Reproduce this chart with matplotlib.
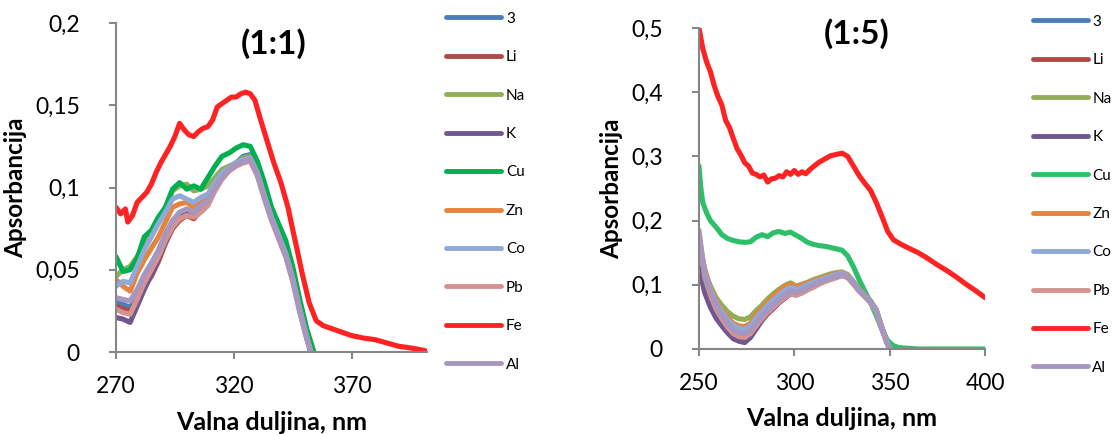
import matplotlib
matplotlib.use("Agg")
import matplotlib.pyplot as plt
from matplotlib.lines import Line2D

plt.rcParams['font.family'] = ['Lato', 'DejaVu Sans']

# imena serija i boje (redoslijed crtanja)
names = ['3', 'Li', 'Na', 'K', 'Cu', 'Zn', 'Co', 'Pb', 'Fe', 'Al']
colors_a = ['#4A7EBB', '#B04A47', '#92AE55', '#70578F', '#00B050', '#E5843F',
            '#8FAAD8', '#D49290', '#FF2222', '#A597BF']
colors_b = ['#4A7EBB', '#B04A47', '#92AE55', '#70578F', '#2EBF6B', '#E5843F',
            '#8FAAD8', '#D49290', '#FF2222', '#A597BF']

# ---------------- (1:1) ----------------
wl_a = [270, 273, 276, 279, 282, 285, 288, 291, 294, 297, 300, 303, 306, 309, 312,
        315, 318, 321, 324, 327, 330, 333, 336, 339, 342, 345, 348, 351, 354]
a_3  = [0.030, 0.029, 0.027, 0.035, 0.045, 0.052, 0.061, 0.071, 0.078, 0.084, 0.085, 0.082, 0.088, 0.092, 0.101,
        0.108, 0.112, 0.115, 0.119, 0.120, 0.110, 0.096, 0.083, 0.072, 0.061, 0.046, 0.027, 0.010, -0.006]
a_li = [0.028, 0.026, 0.025, 0.031, 0.040, 0.046, 0.055, 0.066, 0.075, 0.080, 0.083, 0.081, 0.086, 0.090, 0.099,
        0.106, 0.111, 0.114, 0.117, 0.118, 0.109, 0.095, 0.082, 0.071, 0.060, 0.045, 0.026, 0.009, -0.006]
a_na = [0.046, 0.050, 0.052, 0.058, 0.064, 0.072, 0.079, 0.088, 0.098, 0.101, 0.102, 0.098, 0.099, 0.101, 0.106,
        0.111, 0.113, 0.115, 0.118, 0.119, 0.110, 0.096, 0.083, 0.072, 0.061, 0.046, 0.027, 0.010, -0.006]
a_k  = [0.021, 0.020, 0.018, 0.028, 0.038, 0.047, 0.057, 0.067, 0.076, 0.082, 0.084, 0.083, 0.087, 0.091, 0.099,
        0.106, 0.111, 0.114, 0.117, 0.118, 0.109, 0.095, 0.082, 0.071, 0.060, 0.045, 0.026, 0.009, -0.006]
a_zn = [0.044, 0.040, 0.037, 0.048, 0.056, 0.063, 0.070, 0.079, 0.088, 0.090, 0.091, 0.088, 0.092, 0.095, 0.102,
        0.108, 0.112, 0.114, 0.117, 0.118, 0.109, 0.095, 0.082, 0.071, 0.060, 0.045, 0.026, 0.009, -0.006]
a_co = [0.040, 0.043, 0.042, 0.052, 0.062, 0.070, 0.078, 0.085, 0.093, 0.095, 0.093, 0.091, 0.094, 0.096, 0.103,
        0.109, 0.112, 0.115, 0.117, 0.118, 0.109, 0.095, 0.082, 0.071, 0.060, 0.045, 0.026, 0.009, -0.006]
a_pb = [0.026, 0.024, 0.023, 0.032, 0.042, 0.050, 0.058, 0.068, 0.076, 0.081, 0.083, 0.082, 0.085, 0.089, 0.098,
        0.105, 0.110, 0.113, 0.115, 0.116, 0.107, 0.093, 0.080, 0.069, 0.058, 0.043, 0.024, 0.008, -0.007]
a_al = [0.033, 0.032, 0.031, 0.038, 0.047, 0.054, 0.062, 0.072, 0.080, 0.085, 0.087, 0.085, 0.089, 0.092, 0.100,
        0.106, 0.111, 0.114, 0.116, 0.117, 0.108, 0.094, 0.081, 0.070, 0.059, 0.044, 0.025, 0.008, -0.007]

wl_a_cu = [270, 273, 276, 279, 282, 285, 288, 291, 294, 297, 300, 303, 306, 309, 312,
           315, 318, 321, 324, 327, 330, 333, 336, 339, 342, 345, 348, 351, 354, 357]
a_cu = [0.058, 0.049, 0.050, 0.057, 0.070, 0.074, 0.082, 0.088, 0.099, 0.103, 0.099, 0.101, 0.099, 0.106, 0.113,
        0.119, 0.121, 0.124, 0.126, 0.125, 0.116, 0.103, 0.088, 0.078, 0.068, 0.052, 0.032, 0.014, 0.000, -0.012]

wl_a_fe = [270, 272, 274, 275, 277, 279, 281, 283, 285, 287, 289, 291, 293, 295, 297, 299, 301, 303, 305, 307,
           309, 311, 313, 315, 317, 319, 321, 323, 325, 327, 329, 331, 334, 337, 340, 343, 346, 349, 352, 355,
           358, 362, 366, 370, 375, 380, 385, 390, 395, 400, 402]
a_fe = [0.088, 0.084, 0.087, 0.079, 0.083, 0.091, 0.094, 0.097, 0.102, 0.109, 0.115, 0.120, 0.125, 0.131, 0.139,
        0.135, 0.132, 0.131, 0.134, 0.136, 0.137, 0.141, 0.149, 0.151, 0.153, 0.155, 0.155, 0.157, 0.158, 0.157,
        0.153, 0.143, 0.129, 0.115, 0.103, 0.088, 0.068, 0.048, 0.030, 0.019, 0.016, 0.014, 0.012, 0.010, 0.0085,
        0.0075, 0.0055, 0.0035, 0.0025, 0.0012, 0.0005]

# ---------------- (1:5) ----------------
wl_b = [250, 253, 256, 259, 262, 265, 268, 271, 274, 277, 280, 283, 286, 289, 292, 295, 298, 301,
        304, 307, 310, 313, 316, 319, 322, 325, 328, 331, 334, 337, 340, 343, 346, 349, 352]
b_3  = [0.160, 0.115, 0.088, 0.068, 0.054, 0.041, 0.031, 0.026, 0.026, 0.030, 0.043, 0.052, 0.062, 0.070, 0.078, 0.085, 0.091, 0.089,
        0.092, 0.097, 0.101, 0.105, 0.108, 0.111, 0.114, 0.118, 0.114, 0.104, 0.092, 0.083, 0.074, 0.060, 0.032, 0.008, -0.010]
b_li = [0.140, 0.100, 0.078, 0.058, 0.044, 0.032, 0.022, 0.017, 0.015, 0.022, 0.034, 0.046, 0.055, 0.063, 0.072, 0.079, 0.086, 0.084,
        0.088, 0.093, 0.097, 0.102, 0.106, 0.109, 0.112, 0.115, 0.112, 0.102, 0.091, 0.082, 0.073, 0.059, 0.031, 0.007, -0.010]
b_na = [0.155, 0.120, 0.098, 0.080, 0.068, 0.058, 0.051, 0.047, 0.046, 0.050, 0.060, 0.068, 0.078, 0.086, 0.093, 0.099, 0.103, 0.098,
        0.101, 0.104, 0.108, 0.111, 0.114, 0.117, 0.119, 0.120, 0.116, 0.105, 0.094, 0.084, 0.075, 0.061, 0.033, 0.009, -0.010]
b_k  = [0.125, 0.088, 0.065, 0.048, 0.036, 0.025, 0.016, 0.012, 0.010, 0.018, 0.031, 0.044, 0.055, 0.064, 0.073, 0.080, 0.087, 0.085,
        0.089, 0.094, 0.098, 0.103, 0.106, 0.110, 0.113, 0.116, 0.112, 0.102, 0.091, 0.082, 0.073, 0.059, 0.031, 0.007, -0.010]
b_zn = [0.170, 0.125, 0.095, 0.075, 0.061, 0.049, 0.040, 0.036, 0.035, 0.040, 0.053, 0.063, 0.073, 0.082, 0.090, 0.097, 0.101, 0.097,
        0.100, 0.102, 0.106, 0.109, 0.112, 0.115, 0.117, 0.119, 0.115, 0.104, 0.093, 0.084, 0.074, 0.060, 0.032, 0.008, -0.010]
b_co = [0.165, 0.120, 0.092, 0.072, 0.058, 0.045, 0.037, 0.032, 0.031, 0.036, 0.048, 0.058, 0.068, 0.076, 0.084, 0.091, 0.096, 0.093,
        0.096, 0.100, 0.104, 0.107, 0.110, 0.113, 0.116, 0.118, 0.114, 0.104, 0.092, 0.083, 0.074, 0.060, 0.032, 0.008, -0.010]
b_pb = [0.185, 0.112, 0.084, 0.062, 0.047, 0.034, 0.024, 0.019, 0.018, 0.024, 0.036, 0.047, 0.057, 0.065, 0.073, 0.080, 0.086, 0.084,
        0.087, 0.092, 0.096, 0.101, 0.105, 0.108, 0.111, 0.114, 0.111, 0.101, 0.090, 0.081, 0.072, 0.058, 0.030, 0.006, -0.010]
b_al = [0.180, 0.118, 0.090, 0.068, 0.053, 0.040, 0.030, 0.025, 0.024, 0.029, 0.041, 0.051, 0.061, 0.069, 0.077, 0.084, 0.090, 0.088,
        0.091, 0.096, 0.100, 0.104, 0.107, 0.110, 0.113, 0.116, 0.113, 0.103, 0.091, 0.082, 0.073, 0.059, 0.031, 0.007, -0.010]

wl_b_cu = [250, 251, 252, 254, 256, 258, 260, 262, 265, 268, 271, 274, 277, 280, 283, 286, 289, 292, 295, 298,
           301, 304, 307, 310, 313, 316, 319, 322, 325, 328, 331, 334, 337, 340, 343, 346, 349, 352, 355, 360,
           365, 370, 380, 390, 400]
b_cu = [0.285, 0.250, 0.228, 0.212, 0.200, 0.193, 0.186, 0.178, 0.172, 0.169, 0.167, 0.166, 0.167, 0.174, 0.178,
        0.175, 0.181, 0.183, 0.180, 0.182, 0.177, 0.172, 0.166, 0.163, 0.161, 0.160, 0.158, 0.156, 0.154, 0.145,
        0.128, 0.108, 0.090, 0.072, 0.052, 0.030, 0.013, 0.005, 0.002, 0.001, 0.0, 0.0, 0.0, 0.0, 0.0]

wl_b_fe = [250, 252, 254, 256, 258, 260, 262, 264, 266, 268, 270, 272, 274, 276, 278, 280, 282, 284, 286, 288,
           290, 292, 294, 296, 298, 300, 302, 304, 306, 308, 310, 313, 316, 319, 322, 325, 328, 331, 334, 337,
           340, 343, 346, 349, 352, 356, 360, 365, 370, 375, 380, 385, 390, 395, 400]
b_fe = [0.500, 0.468, 0.447, 0.432, 0.410, 0.393, 0.380, 0.356, 0.345, 0.328, 0.312, 0.302, 0.290, 0.285, 0.274,
        0.272, 0.268, 0.271, 0.260, 0.265, 0.266, 0.270, 0.268, 0.276, 0.272, 0.278, 0.272, 0.276, 0.273, 0.279,
        0.284, 0.291, 0.296, 0.301, 0.303, 0.305, 0.300, 0.285, 0.270, 0.258, 0.247, 0.228, 0.206, 0.183, 0.170,
        0.163, 0.157, 0.150, 0.141, 0.131, 0.122, 0.112, 0.101, 0.091, 0.080]

ticks_a_y = [0, 0.05, 0.1, 0.15, 0.2]
labels_a_y = ['0', '0,05', '0,1', '0,15', '0,2']
ticks_a_x = [270, 320, 370]
ticks_b_y = [0, 0.1, 0.2, 0.3, 0.4, 0.5]
labels_b_y = ['0', '0,1', '0,2', '0,3', '0,4', '0,5']
ticks_b_x = [250, 300, 350, 400]

series_a = [(wl_a, a_3), (wl_a, a_li), (wl_a, a_na), (wl_a, a_k), (wl_a_cu, a_cu), (wl_a, a_zn),
            (wl_a, a_co), (wl_a, a_pb), (wl_a_fe, a_fe), (wl_a, a_al)]
series_b = [(wl_b, b_3), (wl_b, b_li), (wl_b, b_na), (wl_b, b_k), (wl_b_cu, b_cu), (wl_b, b_zn),
            (wl_b, b_co), (wl_b, b_pb), (wl_b_fe, b_fe), (wl_b, b_al)]

fig = plt.figure(figsize=(11.13, 4.34), dpi=100)
ax1 = fig.add_axes([0.1042, 0.1889, 0.2794, 0.758])
ax2 = fig.add_axes([0.628, 0.1959, 0.257, 0.7396])

grey = '#868686'


def uredi(ax, series, colors, xlim, ylim, xt, yt, ylab, title, tx, ty, leg_x, leg_y):
    for (x, y), c, n in zip(series, colors, names):
        ax.plot(x, y, color=c, lw=3.7, label=n, solid_capstyle='round', solid_joinstyle='round')
    ax.set_xlim(*xlim)
    ax.set_ylim(*ylim)
    ax.set_xticks(xt)
    ax.set_yticks(yt)
    ax.set_yticklabels(ylab)
    for s in ['top', 'right']:
        ax.spines[s].set_visible(False)
    for s in ['left', 'bottom']:
        ax.spines[s].set_color(grey)
        ax.spines[s].set_linewidth(1.5)
    ax.tick_params(axis='both', direction='out', length=5, width=1.5, color=grey,
                   labelsize=16.5, labelcolor='black')
    ax.tick_params(axis='y', pad=21)
    ax.tick_params(axis='x', pad=12)
    ax.set_xlabel('Valna duljina, nm', fontsize=18, fontweight='bold', labelpad=10)
    ax.set_ylabel('Apsorbancija', fontsize=17.5, fontweight='bold', labelpad=6)
    ax.text(tx, ty, title, transform=ax.transAxes, ha='center', va='center',
            fontsize=24, fontweight='bold')
    handles = [Line2D([0], [0], color=c, lw=3.5, solid_capstyle='round') for c in colors]
    fig.legend(handles, names, loc='upper left', bbox_to_anchor=(leg_x, leg_y),
               frameon=False, fontsize=11, handlelength=3.6, handletextpad=0.3,
               labelspacing=1.6, borderaxespad=0, borderpad=0)


uredi(ax1, series_a, colors_a, (270, 402), (0, 0.2), ticks_a_x, ticks_a_y, labels_a_y,
      '(1:1)', 0.508, 0.936, 0.401, 0.973)
uredi(ax2, series_b, colors_b, (250, 400), (0, 0.5), ticks_b_x, ticks_b_y, labels_b_y,
      '(1:5)', 0.552, 0.984, 0.928, 0.966)

fig.savefig('out.png', dpi=100)
